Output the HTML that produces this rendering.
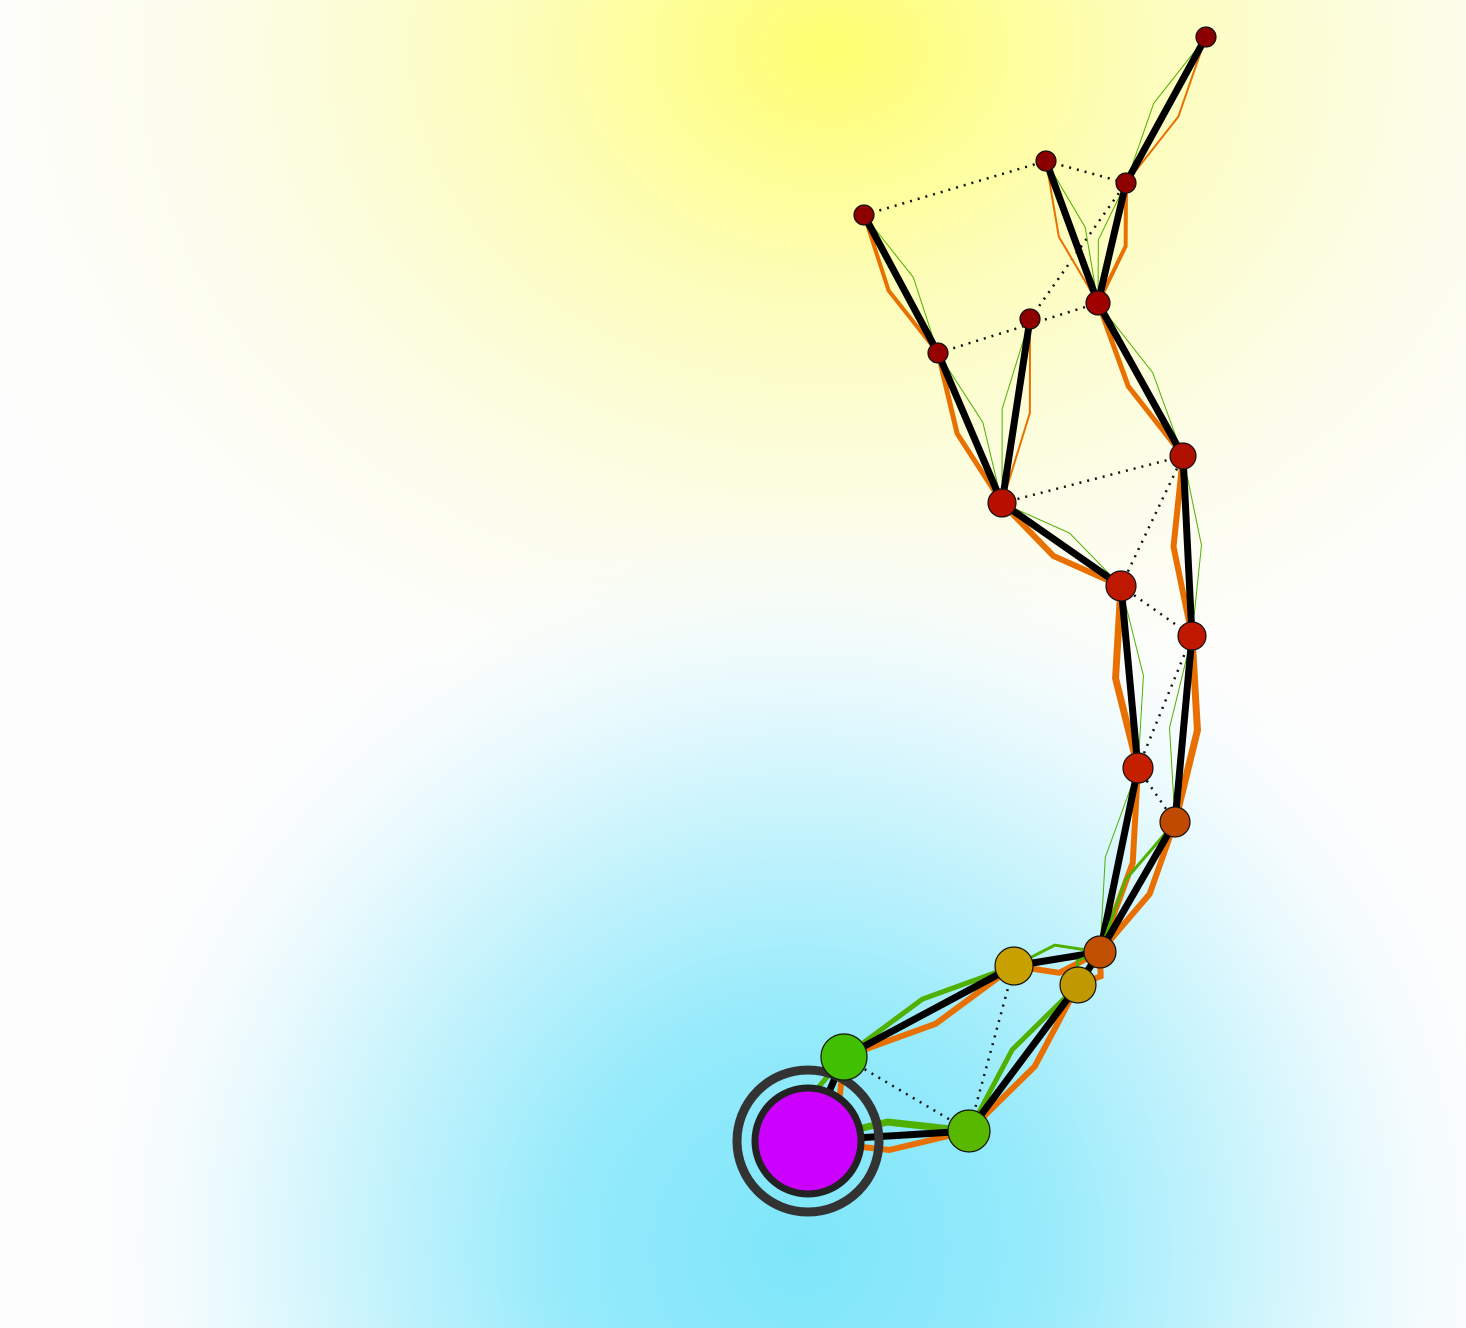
<!DOCTYPE html>
<html><head><meta charset="utf-8"><style>body{margin:0}svg{display:block}</style></head>
<body>
<svg width="1466" height="1328" viewBox="0 0 1466 1328" xmlns="http://www.w3.org/2000/svg">
<defs>
<radialGradient id="gy" cx="830" cy="50" r="1000" gradientUnits="userSpaceOnUse" gradientTransform="translate(830 50) scale(1 0.8) translate(-830 -50)">
<stop offset="0" stop-color="#ffff70"/><stop offset="0.3" stop-color="#fdfdb8"/><stop offset="0.65" stop-color="#fcfde8" stop-opacity="0.8"/><stop offset="1" stop-color="#fff" stop-opacity="0"/></radialGradient>
<radialGradient id="gc" cx="800" cy="1250" r="760" gradientUnits="userSpaceOnUse">
<stop offset="0" stop-color="#7ee6fa"/><stop offset="0.3" stop-color="#94eafb"/><stop offset="0.7" stop-color="#e0f8fd"/><stop offset="1" stop-color="#fff" stop-opacity="0"/></radialGradient>
</defs>
<rect width="1466" height="1328" fill="#fdfdfd"/>
<rect width="1466" height="1328" fill="url(#gy)"/>
<rect width="1466" height="1328" fill="url(#gc)"/>
<g id="edges"></g><g id="nodes"></g>
</svg>
<script>
const nodeX=[1206,1046,1126,864,1098,1030,938,1183,1002,1121,1192,1138,1175,1100,1014,1078,844,969,808];
const nodeY=[37,161,183,215,303,319,353,456,503,586,636,768,822,952,966,985,1057,1131,1141];
const nodeR=[10,10,10,10,12,10,10,13,14,15,14,15,15,16,19,18,23,21,53];
const nodeColor=["#8a0000","#8a0000","#8e0000","#8e0000","#a00000","#8e0000","#960000","#b01000","#b81000","#be1800","#c01800","#c42000","#c04a00","#c05000","#c8a000","#c09800","#40c000","#58b800","#cc00ff"];
const edgeFrom=[0,2,1,4,3,6,5,8,7,9,10,11,12,13,13,14,15,16,17];
const edgeTo=[2,4,4,7,6,8,8,9,10,11,12,13,13,14,15,16,17,18,18];
const edgeWidth=[7,7,7,7,7,7,7,7,7,7,7,7,7,7,7,7,7,7,7];
const orangeW=[2,4,2,5,4,5,2,6,6,7,7,6,6,6,6,6,6,6,6];
const greenW=[1,1,1,1,1,1,1,1,1,1,1,1,3,3,3,5,5,5,7];
const orangeSide=[-1,-1,1,1,1,1,-1,1,1,1,-1,-1,-1,-1,-1,-1,-1,-1,-1];
const dotFrom=[3,1,1,6,5,8,9,9,11,12,14,16];
const dotTo=[1,2,4,4,2,7,7,10,10,11,17,17];
const NS="http://www.w3.org/2000/svg";
const eg=document.getElementById('edges'),ng=document.getElementById('nodes');
function line(p,col,w,dash,name){const e=document.createElementNS(NS,'polyline');
e.setAttribute('points',p.map(a=>a.join(',')).join(' '));e.setAttribute('fill','none');
e.setAttribute('stroke',col);e.setAttribute('stroke-width',w);if(dash)e.setAttribute('stroke-dasharray',dash);


eg.appendChild(e);}
function bent(a,b,off){const x1=nodeX[a],y1=nodeY[a],x2=nodeX[b],y2=nodeY[b];const dx=x2-x1,dy=y2-y1,L=Math.hypot(dx,dy);
const nx=-dy/L,ny=dx/L;const mx=(x1+x2)/2+nx*off,my=(y1+y2)/2+ny*off;return [[x1,y1],[mx,my],[x2,y2]];}
for(let i=0;i<dotFrom.length;i++)line([[nodeX[dotFrom[i]],nodeY[dotFrom[i]]],[nodeX[dotTo[i]],nodeY[dotTo[i]]]],'#111',2.5,'2,6','dotted-edge');
for(let i=0;i<edgeFrom.length;i++){
line(bent(edgeFrom[i],edgeTo[i],14*orangeSide[i]),'#e87000',orangeW[i],null,'orange-edge');
line(bent(edgeFrom[i],edgeTo[i],-14*orangeSide[i]),'#50b000',greenW[i],null,'green-edge');
line([[nodeX[edgeFrom[i]],nodeY[edgeFrom[i]]],[nodeX[edgeTo[i]],nodeY[edgeTo[i]]]],'#000',edgeWidth[i],null,'black-edge');}
const ring=document.createElementNS(NS,'circle');ring.setAttribute('cx',nodeX[18]);ring.setAttribute('cy',nodeY[18]);ring.setAttribute('r',71);
ring.setAttribute('fill','none');ring.setAttribute('stroke','#333');ring.setAttribute('stroke-width',9);


ng.appendChild(ring);
for(let i=0;i<nodeX.length;i++){const c=document.createElementNS(NS,'circle');
c.setAttribute('cx',nodeX[i]);c.setAttribute('cy',nodeY[i]);c.setAttribute('r',nodeR[i]);c.setAttribute('fill',nodeColor[i]);
c.setAttribute('stroke',i==18?'#222':'#111');c.setAttribute('stroke-width',i==18?7:1.2);


ng.appendChild(c);}
</script>
</body></html>
